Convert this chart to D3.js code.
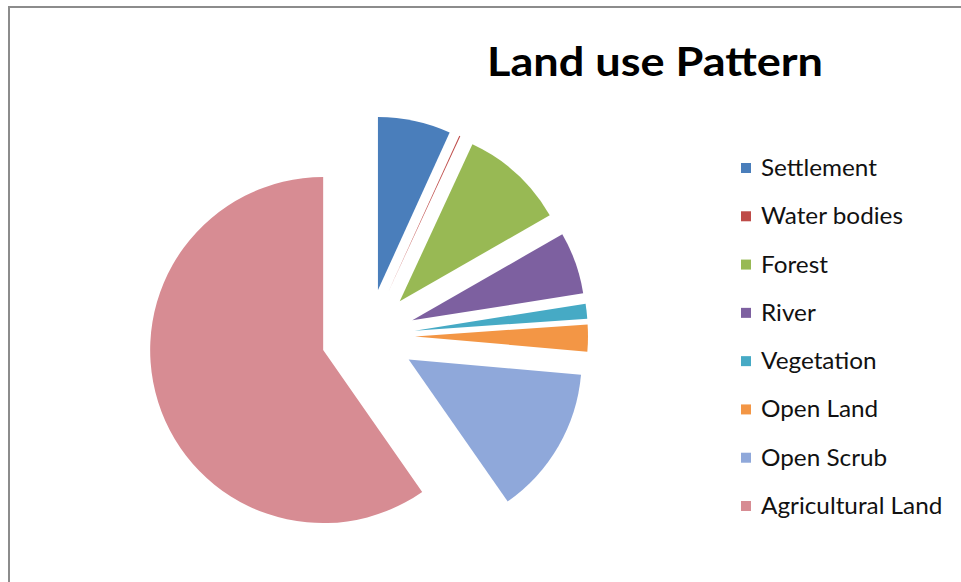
<!DOCTYPE html>
<html><head><meta charset="utf-8">
<script src="https://cdn.jsdelivr.net/npm/d3@7"></script>
<style>html,body{margin:0;padding:0;background:#fff;}</style>
</head><body>
<svg id="chart" width="961" height="582"></svg>
<script>
const categories = ["Settlement","Water bodies","Forest","River","Vegetation","Open Land","Open Scrub","Agricultural Land"];
const values = [6.8, 0.1, 9.8, 5.8, 1.4, 2.5, 13.9, 59.7];
const colors = ["#4A7EBB","#BE4B48","#98B954","#7D60A0","#46AAC5","#F39645","#8FA8DA","#D78C93"];
const title = "Land use Pattern";

const svg = d3.select("#chart");
svg.append("rect").attr("x",0).attr("y",0).attr("width",961).attr("height",582).attr("fill","#fff");
svg.append("line").attr("x1",9).attr("y1",7).attr("x2",961).attr("y2",7).attr("stroke","#8c8c8c").attr("stroke-width",2);
svg.append("line").attr("x1",9).attr("y1",6).attr("x2",9).attr("y2",582).attr("stroke","#8c8c8c").attr("stroke-width",2);

const cx = 368, cy = 336, R = 173, explode = 47;
const data = categories.map((c,i)=>({name:c, value:values[i], color:colors[i]}));
const pie = d3.pie().value(d=>d.value).sort(null);
const arc = d3.arc().innerRadius(0).outerRadius(R);
const arcs = pie(data);
const g = svg.append("g").attr("transform",`translate(${cx},${cy})`);
g.selectAll("path").data(arcs).enter().append("path")
  .attr("d",arc)
  .attr("fill",d=>d.data.color)
  .attr("transform",d=>{
    const a=(d.startAngle+d.endAngle)/2;
    return `translate(${explode*Math.sin(a)},${-explode*Math.cos(a)})`;
  });

svg.append("text").attr("x",655).attr("y",76).attr("text-anchor","middle")
  .attr("font-family","Lato, 'Open Sans', sans-serif").attr("font-weight","bold")
  .attr("font-size",40).attr("fill","#000")
  .attr("textLength",336).attr("lengthAdjust","spacingAndGlyphs")
  .text(title);

const legendY = d3.scalePoint().domain(categories).range([168,506]);
const lg = svg.append("g");
const items = lg.selectAll("g").data(data).enter().append("g")
  .attr("transform",d=>`translate(741,${legendY(d.name)})`);
items.append("rect").attr("x",0).attr("y",-5).attr("width",10).attr("height",10).attr("fill",d=>d.color);
items.append("text").attr("x",20).attr("y",8)
  .attr("font-family","Lato, 'Open Sans', sans-serif").attr("font-size",22.5).attr("fill","#111")
  .text(d=>d.name)
  .each(function(){
    const w = this.getComputedTextLength();
    d3.select(this).attr("textLength", w*1.08).attr("lengthAdjust","spacingAndGlyphs");
  });
</script>
</body></html>
